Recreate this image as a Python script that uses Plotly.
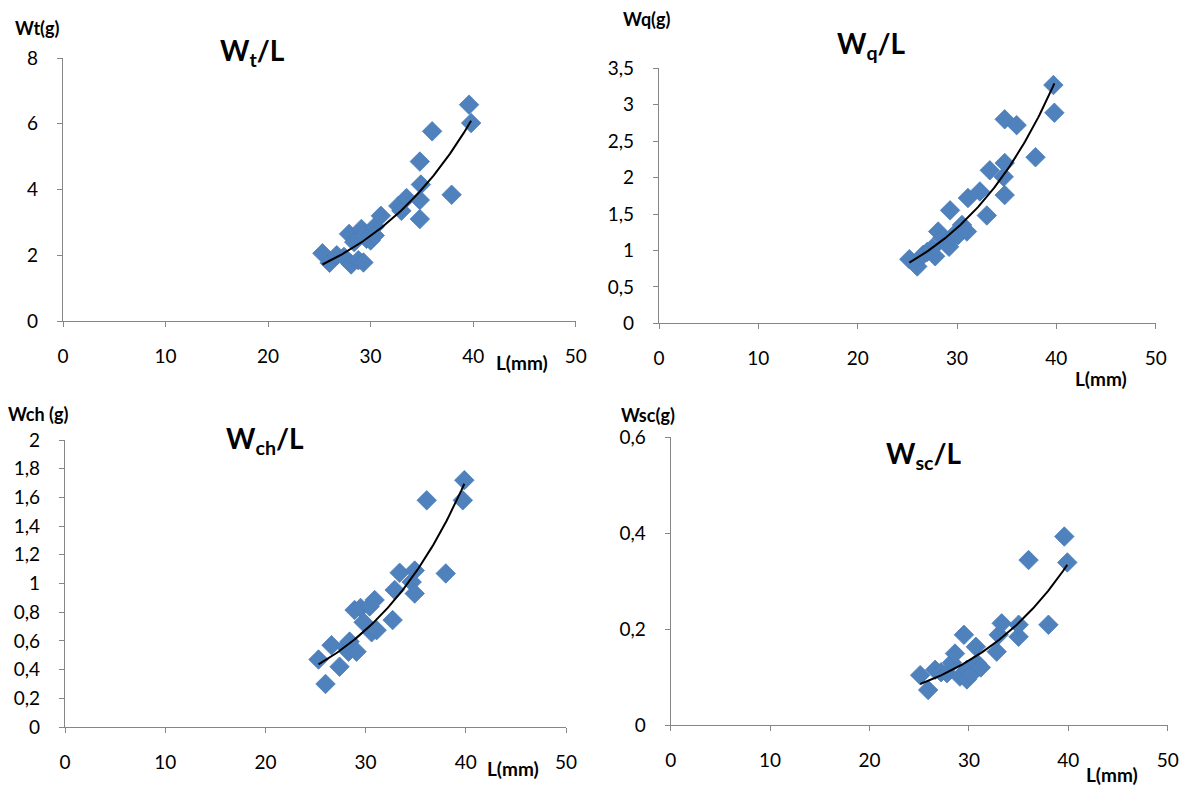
import numpy as np
import plotly.graph_objects as go

W, H = 1187, 789

# ---------------- data ----------------
L_t = [25.3, 26.0, 26.7, 27.4, 27.9, 28.1, 28.4, 28.8, 29.1, 29.3, 29.6, 30.0, 30.4, 30.4, 31.0,
       32.7, 33.0, 33.5, 34.8, 34.9, 34.8, 34.8, 36.0, 37.9, 39.6, 39.8]
W_t = [2.06, 1.77, 2.00, 1.95, 2.65, 1.72, 2.40, 1.85, 2.80, 1.78, 2.50, 2.45, 2.87, 2.60, 3.20,
       3.50, 3.35, 3.74, 4.85, 4.15, 3.68, 3.10, 5.77, 3.84, 6.58, 6.02]

L_q = [25.2, 26.0, 26.6, 27.0, 27.5, 27.8, 28.1, 28.5, 28.9, 29.2, 29.3, 29.6, 30.1, 30.5, 31.0,
       31.1, 32.3, 33.0, 33.3, 34.7, 34.8, 34.8, 34.8, 36.0, 37.9, 39.7, 39.8]
W_q = [0.88, 0.78, 0.94, 0.98, 1.03, 0.92, 1.26, 1.17, 1.10, 1.05, 1.55, 1.20, 1.21, 1.35, 1.26,
       1.72, 1.81, 1.48, 2.10, 2.01, 1.76, 2.20, 2.80, 2.72, 2.28, 3.27, 2.89]

L_ch = [25.3, 26.0, 26.6, 27.4, 28.0, 28.3, 28.4, 28.9, 29.1, 29.5, 29.8, 30.4, 30.6, 30.9, 31.1,
        32.7, 32.9, 33.4, 34.6, 34.9, 34.9, 36.1, 38.0, 39.7, 39.85]
W_ch = [0.47, 0.30, 0.57, 0.42, 0.56, 0.525, 0.595, 0.815, 0.525, 0.83, 0.73, 0.84, 0.66, 0.885, 0.675,
        0.745, 0.955, 1.075, 1.01, 0.93, 1.09, 1.58, 1.07, 1.58, 1.72]

L_sc = [25.1, 25.9, 26.6, 27.2, 27.8, 28.3, 28.6, 29.1, 29.5, 29.8, 29.8, 30.2, 30.7, 30.8, 31.2,
        32.8, 33.0, 33.3, 35.0, 35.0, 36.0, 38.0, 39.6, 39.9]
W_sc = [0.104, 0.073, 0.115, 0.110, 0.108, 0.130, 0.149, 0.101, 0.188, 0.115, 0.095, 0.105, 0.163, 0.129, 0.120,
        0.153, 0.188, 0.212, 0.184, 0.209, 0.344, 0.209, 0.393, 0.339]

titles = ["W<sub>t</sub>/L", "W<sub>q</sub>/L", "W<sub>ch</sub>/L", "W<sub>sc</sub>/L"]
ylabels = ["Wt(g)", "Wq(g)", "Wch (g)", "Wsc(g)"]
xlabel = "L(mm)"
y_ranges = [(0, 8), (0, 3.5), (0, 2), (0, 0.6)]
y_dticks = [2, 0.5, 0.2, 0.2]

# ---------------- layout geometry (pixels) ----------------
# (x0, x1, ytop, ybottom)
boxes = [(63, 575.7, 58, 321), (659, 1155.7, 68.3, 323.3),
         (65, 566, 440, 727), (670.7, 1167.7, 437.3, 725)]
title_pos = [(253, 52), (871, 45), (265, 440), (924, 455)]
ylab_pos = [(37, 28), (647, 19), (38, 414), (648, 415)]
xlab_pos = [(522, 362), (1101, 378), (513, 768), (1112, 774)]

FONT = "Lato, Carlito, Calibri, sans-serif"
AX_COL = "#868686"
MK_COL = "#4F81BD"

fig = go.Figure()
data = [(L_t, W_t), (L_q, W_q), (L_ch, W_ch), (L_sc, W_sc)]
annotations = []
for i, ((L, Wv), (x0, x1, yt, yb)) in enumerate(zip(data, boxes)):
    sfx = "" if i == 0 else str(i + 1)
    xa, ya = "x" + sfx, "y" + sfx
    fig.add_trace(go.Scatter(
        x=L, y=Wv, mode="markers", xaxis=xa, yaxis=ya, showlegend=False,
        marker=dict(symbol="diamond", size=15, color=MK_COL,
                    line=dict(color="#4A7EBB", width=0.8))))
    # exponential trendline (least squares on log values, as in Excel)
    b, ln_a = np.polyfit(np.array(L), np.log(np.array(Wv)), 1)
    xs = np.linspace(min(L), max(L), 100)
    fig.add_trace(go.Scatter(
        x=xs, y=np.exp(ln_a) * np.exp(b * xs), mode="lines", xaxis=xa, yaxis=ya,
        showlegend=False, line=dict(color="black", width=2)))

    common = dict(showline=True, linecolor=AX_COL, linewidth=1.3, ticks="outside",
                  tickcolor=AX_COL, ticklen=5, tickwidth=1.3, showgrid=False,
                  zeroline=False, automargin=False,
                  tickfont=dict(family=FONT, size=19, color="black"))
    fig.layout["xaxis" + sfx] = dict(domain=[x0 / W, x1 / W], anchor=ya, range=[0, 50],
                                     dtick=10, tick0=0, ticklabelstandoff=13, **common)
    fig.layout["yaxis" + sfx] = dict(domain=[1 - yb / H, 1 - yt / H], anchor=xa,
                                     range=list(y_ranges[i]), dtick=y_dticks[i], tick0=0,
                                     ticklabelstandoff=15, **common)
    tx, ty = title_pos[i]
    annotations.append(dict(text="<b>" + titles[i] + "</b>", x=tx / W, y=1 - ty / H,
                            xref="paper", yref="paper", showarrow=False,
                            xanchor="center", yanchor="middle",
                            font=dict(family=FONT, size=28, color="black")))
    lx, ly = ylab_pos[i]
    annotations.append(dict(text="<b>" + ylabels[i] + "</b>", x=lx / W, y=1 - ly / H,
                            xref="paper", yref="paper", showarrow=False,
                            xanchor="center", yanchor="middle",
                            font=dict(family=FONT, size=18, color="black")))
    mx, my = xlab_pos[i]
    annotations.append(dict(text="<b>" + xlabel + "</b>", x=mx / W, y=1 - my / H,
                            xref="paper", yref="paper", showarrow=False,
                            xanchor="center", yanchor="middle",
                            font=dict(family=FONT, size=19, color="black")))

fig.update_layout(width=W, height=H, margin=dict(l=0, r=0, t=0, b=0, pad=0),
                  autosize=False,
                  plot_bgcolor="white", paper_bgcolor="white",
                  separators=", ", annotations=annotations)
fig.write_html("out.html")
